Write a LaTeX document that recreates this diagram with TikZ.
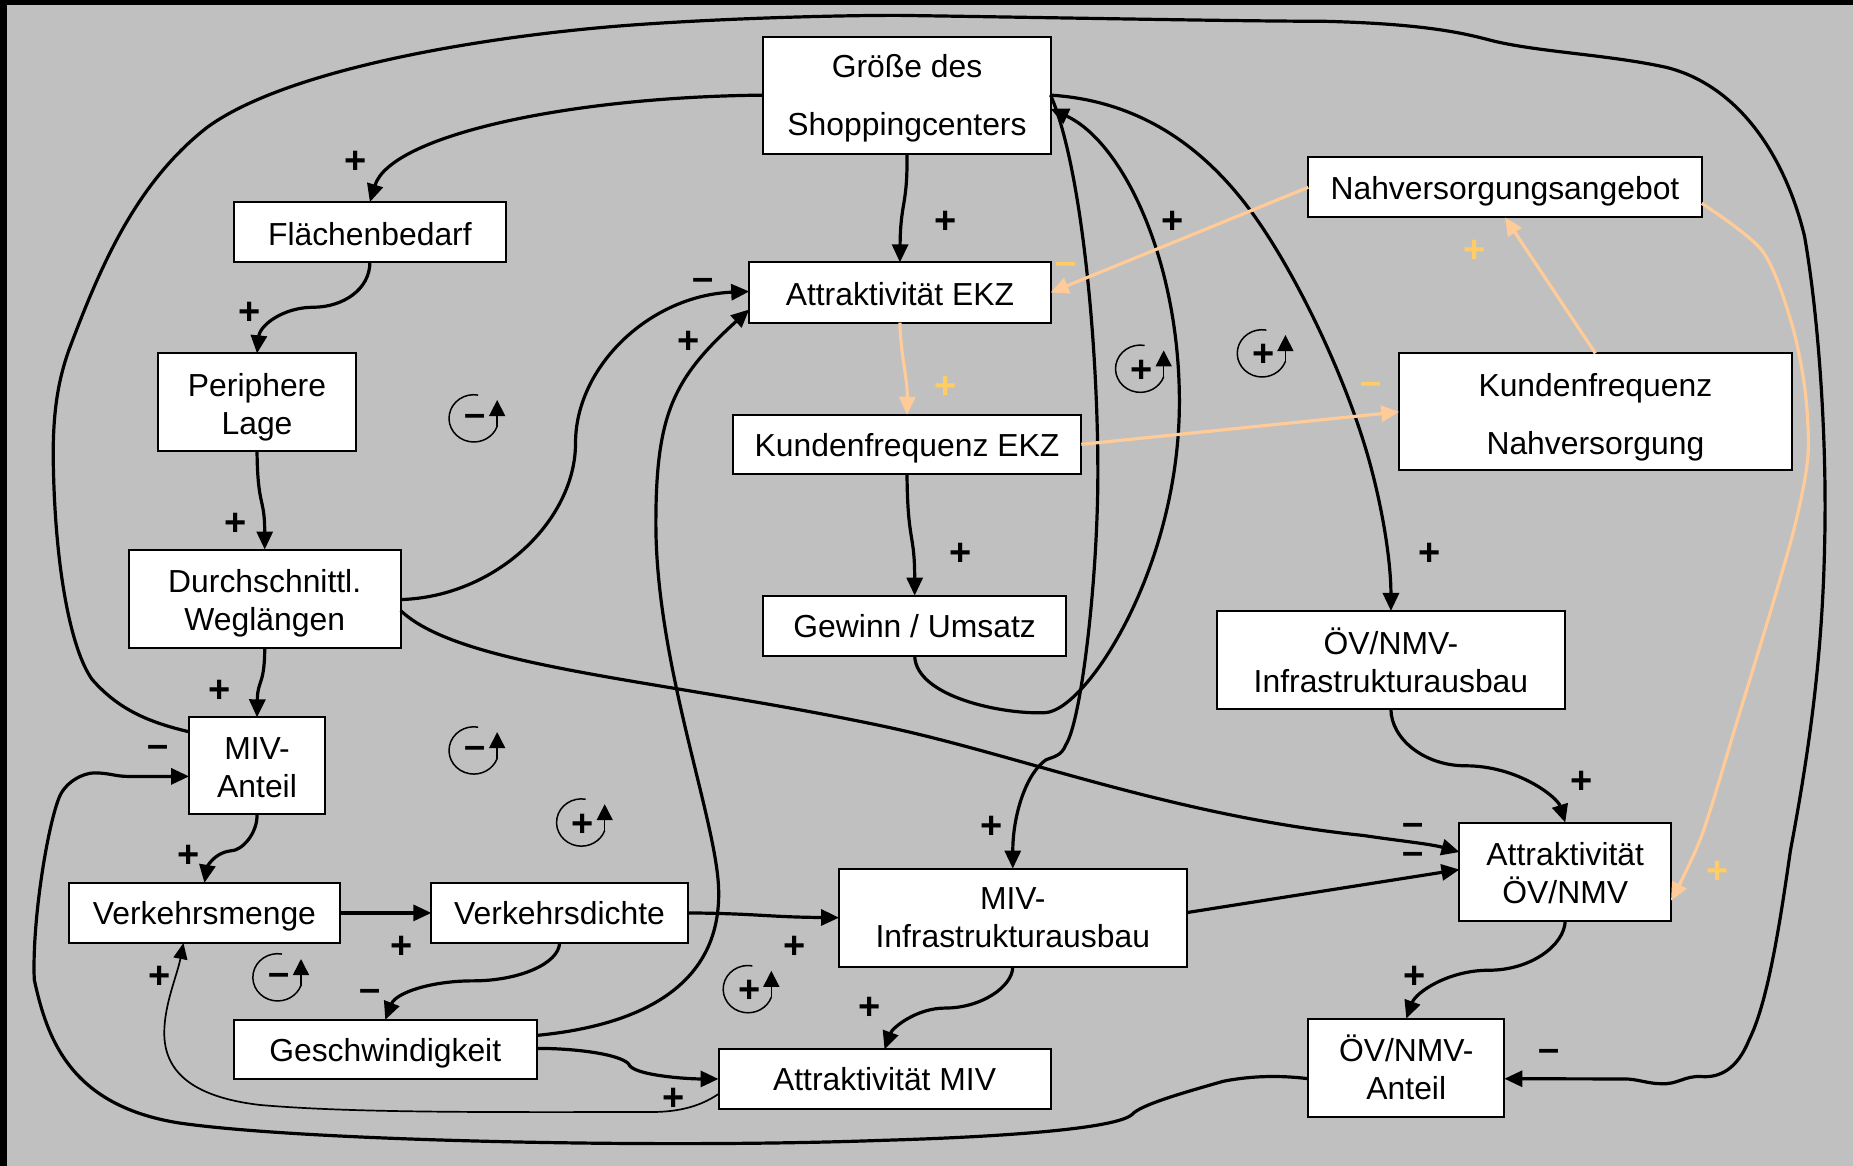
\documentclass[tikz,border=0pt]{standalone}
\usepackage{fontspec}
\setmainfont{Liberation Sans}
\usetikzlibrary{arrows.meta}
\definecolor{bgc}{HTML}{C0C0C0}
\definecolor{peach}{HTML}{FFCC99}
\definecolor{signor}{HTML}{FFCC66}
\newcount\signno
\tikzset{
  x=1.18176pt,y=-1.18176pt,
  box/.style={draw=black,line width=2pt,fill=white,inner sep=0pt,outer sep=0pt,align=center,font=\fontsize{31.85}{38}\selectfont},
  conn/.style={draw=black,line width=3.2pt,-{Triangle[length=18pt,width=16pt]}},
  thinconn/.style={draw=black,line width=1.7pt,-{Triangle[length=16pt,width=14pt]}},
  orconn/.style={draw=peach,line width=3.2pt,-{Triangle[length=18pt,width=16pt]}},
  sgn/.style={inner sep=0pt,font=\fontsize{38}{38}\selectfont\bfseries},
}
\newcommand\bx[7][0]{%
  \pgfmathsetmacro\bxw{(#5-#3)*1.18176}%
  \pgfmathsetmacro\bxh{(#6-#4)*1.18176}%
  \node[box,minimum width=\bxw pt,minimum height=\bxh pt] (#2) at ({(#3+#5)/2},{(#4+#6)/2}) {\rule{0pt}{#1pt}#7};}
\newcommand\sg[4][black]{\global\advance\signno by 1
  \node[sgn,text=#1] (sign\the\signno) at ({#2+1},{#3+2}) {#4};}
\newcommand\lp[3]{\begin{scope}[shift={(#1,#2)}]
  \draw[line width=1.5pt] (3.6,-19.7) arc[start angle=-80,end angle=-340,x radius=21,y radius=20];
  \draw[line width=1.5pt,-{Triangle[length=16pt,width=16pt]}] (19.7,7) -- (19.7,-15.5);
  \end{scope}\sg{#1}{#2}{#3}}
\begin{document}
\begin{tikzpicture}
\useasboundingbox (0,0) rectangle (1568,986.6);
\fill[bgc] (0,0) rectangle (1568,986.6);
\fill[black] (0,0) rectangle (1568,4.5);
\fill[black] (0,0) rectangle (6,986.6);
% boxes
\bx[30]{groesse}{646}{31}{889}{130}{Größe des\\[20pt]Shoppingcenters}
\bx[27.7]{flaeche}{198}{171}{428}{222}{Flächenbedarf}
\bx[32.4]{periph}{134}{299}{301}{382}{Periphere\\Lage}
\bx[32.4]{durch}{109}{465}{339}{548}{Durchschnittl.\\Weglängen}
\bx[25.4]{mivant}{160}{607}{275}{689}{MIV-\\Anteil}
\bx[30]{vmenge}{58}{747}{288}{798}{Verkehrsmenge}
\bx{vdichte}{365}{747}{582}{798}{Verkehrsdichte}
\bx[30]{geschw}{198}{863}{454}{913}{Geschwindigkeit}
\bx{attrmiv}{608}{888}{889}{938}{Attraktivität MIV}
\bx{mivinf}{710}{735}{1004}{818}{MIV-\\Infrastrukturausbau}
\bx[25.4]{attrekz}{634}{222}{889}{273}{Attraktivität EKZ}
\bx[30]{kundekz}{620}{351}{915}{401}{Kundenfrequenz EKZ}
\bx{gewinn}{646}{504}{902}{555}{Gewinn / Umsatz}
\bx[30]{nahv}{1107}{133}{1440}{184}{Nahversorgungsangebot}
\bx[33.6]{kundn}{1184}{299}{1516}{398}{Kundenfrequenz\\[20pt]Nahversorgung}
\bx{oevinf}{1030}{517}{1324}{600}{ÖV/NMV-\\Infrastrukturausbau}
\bx[25.4]{attroev}{1235}{696}{1414}{779}{Attraktivität\\ÖV/NMV}
\bx{oevant}{1107}{862}{1273}{945}{ÖV/NMV-\\Anteil}
% named ends off the anchor centres
\coordinate (mivantA) at ([yshift=34pt]mivant.west);
\coordinate (mivantB) at ([yshift=-10.6pt]mivant.west);
\coordinate (durchA) at ([yshift=-1pt]durch.east);
\coordinate (durchB) at ([yshift=-12pt]durch.east);
\coordinate (groesseB) at ([yshift=-13.6pt]groesse.east);
\coordinate (ekzW) at ([yshift=1pt]attrekz.west);
\coordinate (ekzL) at ([yshift=-17pt]attrekz.west);
\coordinate (oevA) at ([yshift=19.5pt]attroev.west);
\coordinate (oevB) at ([yshift=2pt]attroev.west);
\coordinate (oevC) at ([yshift=-29pt]attroev.east);
\coordinate (infE) at ([yshift=5pt]mivinf.east);
\coordinate (geschA) at ([yshift=14pt]geschw.east);
\coordinate (geschB) at ([yshift=1pt]geschw.east);
\coordinate (amivB) at ([yshift=-15pt]attrmiv.west);
\coordinate (nahvE) at ([yshift=-16pt]nahv.east);
\coordinate (vmS) at ([xshift=-21pt]vmenge.south);
\coordinate (oevW) at ([yshift=-11pt]oevant.west);
\coordinate (oevE) at ([yshift=-11pt]oevant.east);
% black connectors
\draw[conn] (groesse.west) .. controls (480,82) and (330,115) .. (flaeche.north);
\draw[conn] (groesse.south) .. controls (768,175) and (762,170) .. (attrekz.north);
\draw[conn] (flaeche.south) .. controls (313,245) and (290,260) .. (265,260) .. controls (240,260) and (220,275) .. (periph.north);
\draw[conn] (periph.south) .. controls (218,430) and (224,420) .. (durch.north);
\draw[conn] (durch.south) .. controls (224,580) and (218,575) .. (mivant.north);
\draw[conn] (mivant.south) .. controls (218,705) and (205,720) .. (195,720) .. controls (180,722) and (175,735) .. (vmenge.north);
\draw[conn] (vmenge.east) -- (vdichte.west);
\draw[conn] (vdichte.east) .. controls (640,773) and (650,776) .. (mivinf.west);
\draw[conn] (vdichte.south) .. controls (473,815) and (440,830) .. (400,830) .. controls (365,830) and (335,840) .. (geschw.north);
\draw[conn] (geschA) .. controls (540,868) and (612,835) .. (608,750) .. controls (605,690) and (555,560) .. (555,443) .. controls (555,350) and (570,320) .. (ekzL);
\draw[conn] (durchA) .. controls (420,505) and (487,440) .. (487,375) .. controls (487,310) and (550,250) .. (ekzW);
\draw[conn] (durchB) .. controls (390,565) and (560,575) .. (745,614) .. controls (860,638) and (990,690) .. (1154,707) .. controls (1180,711) and (1210,714) .. (oevA);
\draw[conn] (infE) -- (oevB);
\draw[conn] (mivinf.south) .. controls (857,835) and (830,853) .. (800,853) .. controls (775,853) and (755,870) .. (attrmiv.north);
\draw[conn] (geschB) .. controls (490,887) and (530,893) .. (533,902) .. controls (540,910) and (580,913) .. (attrmiv.west);
\draw[thinconn] (amivB) .. controls (590,938) and (570,941) .. (550,941) .. controls (420,941) and (300,942) .. (220,935) .. controls (160,928) and (139,905) .. (139,874) .. controls (139,850) and (150,825) .. (vmS);
\draw[conn] (oevW) .. controls (1085,910) and (1060,910) .. (1035,915) .. controls (1000,925) and (965,935) .. (958,943) .. controls (945,955) and (850,962) .. (745,965) .. controls (550,972) and (250,965) .. (150,950) .. controls (60,935) and (40,880) .. (29,829) .. controls (27,780) and (40,700) .. (50,675) .. controls (55,662) and (70,654) .. (80,654) .. controls (92,654) and (98,657) .. (108,657) -- (mivantB);
\draw[conn] (mivantA) .. controls (125,611) and (100,600) .. (78,575) .. controls (60,550) and (46,480) .. (45,385) .. controls (45,345) and (50,320) .. (58,297) .. controls (85,225) and (115,155) .. (175,108) .. controls (240,60) and (400,32) .. (524,22) .. controls (600,16) and (700,13) .. (760,13) .. controls (900,15) and (1050,18) .. (1120,18) .. controls (1200,20) and (1235,27) .. (1261,34) .. controls (1300,44) and (1360,46) .. (1410,57) .. controls (1470,72) and (1510,130) .. (1527,200) .. controls (1540,275) and (1546,380) .. (1544,460) .. controls (1542,560) and (1530,640) .. (1515,720) .. controls (1505,790) and (1495,850) .. (1480,880) .. controls (1470,905) and (1455,912) .. (1440,911) .. controls (1425,910) and (1420,918) .. (1405,917) .. controls (1395,917) and (1385,913) .. (1375,913) -- (oevE);
\draw[conn] (groesse.east) .. controls (960,85) and (1015,120) .. (1058,178) .. controls (1095,228) and (1140,320) .. (1160,395) .. controls (1172,440) and (1177,480) .. (oevinf.north);
\draw[conn] (gewinn.south) .. controls (775,590) and (850,605) .. (885,603) .. controls (920,600) and (998,480) .. (998,340) .. controls (998,220) and (950,120) .. (groesseB);
\draw[conn] (groesse.east) .. controls (915,140) and (929,290) .. (929,400) .. controls (929,490) and (915,610) .. (902,630) .. controls (898,640) and (892,640) .. (885,643) .. controls (868,655) and (857,690) .. (mivinf.north);
\draw[conn] (oevinf.south) .. controls (1177,625) and (1205,648) .. (1240,648) .. controls (1285,648) and (1318,675) .. (attroev.north);
\draw[conn] (attroev.south) .. controls (1324,800) and (1295,821) .. (1260,821) .. controls (1225,821) and (1198,840) .. (oevant.north);
\draw[conn] (kundekz.south) .. controls (768,460) and (774,450) .. (gewinn.north);
% orange connectors
\draw[orconn] (attrekz.south) .. controls (762,300) and (768,320) .. (kundekz.north);
\draw[orconn] (nahv.west) -- (attrekz.east);
\draw[orconn] (kundekz.east) -- (kundn.west);
\draw[orconn] (kundn.north) -- (nahv.south);
\draw[orconn] plot[smooth,tension=.5] coordinates {(nahvE) (1491,212) (1515,270) (1527,327) (1530,384) (1520,440) (1501,508) (1470,610) (1440,707) (oevC)};
% signs
\sg{300}{135}{+}\sg{210}{263}{+}\sg{198}{442}{+}\sg{185}{583}{+}
\sg{133}{634}{–}\sg{159}{723}{+}\sg{339}{800}{+}\sg{134}{825}{+}
\sg{312}{840}{–}\sg{799}{186}{+}\sg[signor]{901}{225}{–}\sg{594}{239}{–}
\sg{582}{288}{+}\sg[signor]{799}{326}{+}\sg{991}{186}{+}\sg[signor]{1247}{211}{+}
\sg[signor]{1159}{327}{–}\sg{812}{467}{+}\sg{1209}{467}{+}\sg{838}{698}{+}
\sg{1337}{660}{+}\sg{1195}{700}{–}\sg{1195}{724}{–}\sg[signor]{1452}{736}{+}
\sg{671}{800}{+}\sg{735}{851}{+}\sg{1196}{825}{+}\sg{1310}{891}{–}\sg{569}{928}{+}
% loop markers
\lp{401}{354}{–}\lp{401}{635}{–}\lp{492}{696}{+}\lp{235}{827}{–}
\lp{633}{837}{+}\lp{965}{312}{+}\lp{1068}{299}{+}
\end{tikzpicture}
\end{document}
